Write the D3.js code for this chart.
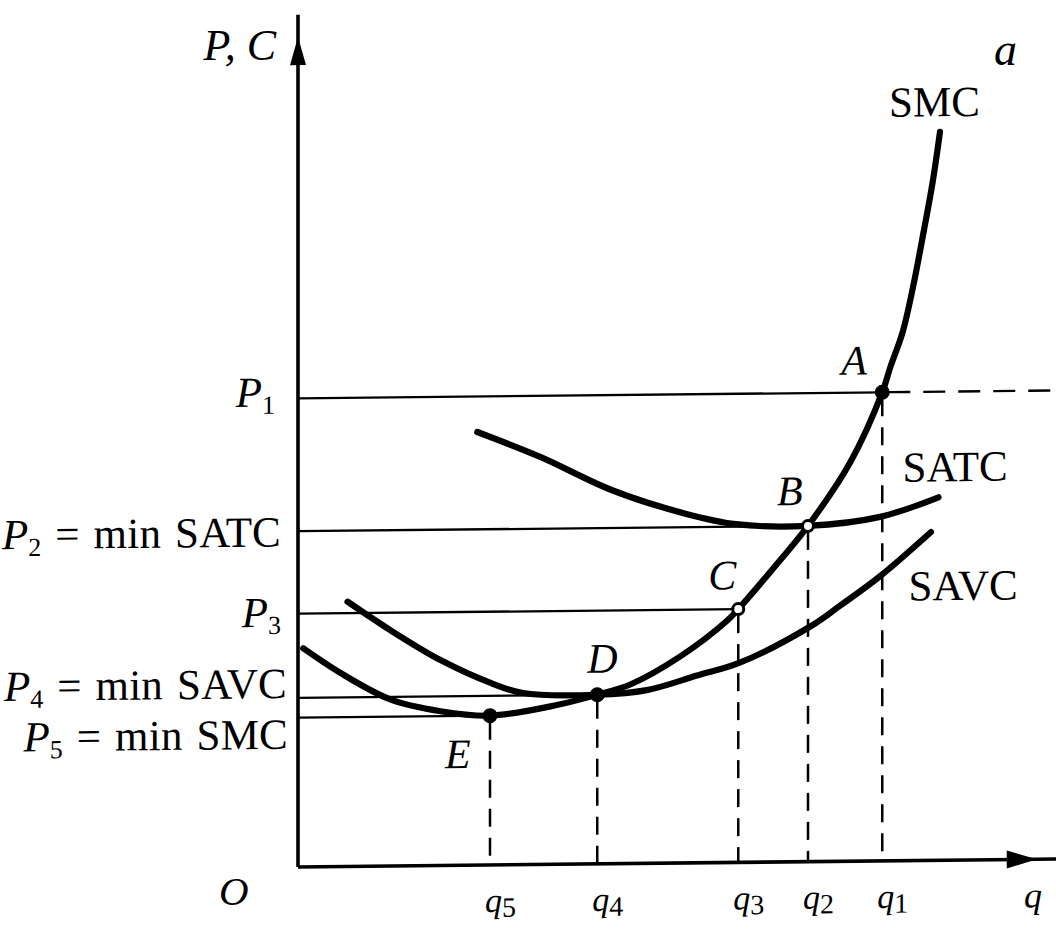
<!DOCTYPE html>
<html><head><meta charset="utf-8">
<script src="https://cdn.jsdelivr.net/npm/d3@7"></script>
<style>
body{margin:0;background:#fff}
svg{display:block}
text{font-family:"Liberation Serif","Times New Roman",serif;fill:#000}
</style>
</head><body>
<svg id="c" width="1056" height="930"></svg>
<script>
// ---- data (q, P) in abstract units ----
const smcCurve = [[0.07,2.65],[0.56,2.35],[1.23,2.02],[1.90,1.87],[2.56,1.81],[3.45,1.93],[3.99,2.05],[4.43,2.17],[5.09,2.50],[5.72,2.93],[5.87,3.07],[6.43,3.66],[6.80,4.07],[7.36,4.83],[7.79,5.68],[7.90,5.99],[8.06,6.40],[8.20,6.95],[8.34,7.61],[8.46,8.21],[8.56,8.83]];
const satcCurve = [[2.39,5.25],[3.23,4.94],[4.18,4.53],[5.14,4.24],[5.84,4.10],[6.80,4.07],[7.76,4.17],[8.54,4.40]];
const savcCurve = [[0.66,3.21],[1.23,2.86],[1.90,2.49],[2.56,2.21],[3.00,2.08],[3.99,2.05],[4.65,2.10],[5.32,2.27],[5.89,2.42],[6.83,2.85],[7.23,3.10],[7.76,3.45],[8.44,3.98]];
const curveNames = ["SMC","SATC","SAVC"];
const pointNames = ["A","B","C","D","E"];
const pointQ = [7.79,6.80,5.87,3.99,2.56];
const pointP = [5.68,4.07,3.07,2.05,1.81];
const pointFilled = [true,false,false,true,true];
const qSubs = ["1","2","3","4","5"];
const pSubs = ["1","2","3","4","5"];
const pSuffix = [""," = min SATC",""," = min SAVC"," = min SMC"];
const axisLabelY = "P, C";
const axisLabelX = "q";
const originLabel = "O";
const panelLabel = "a";

// ---- scales ----
const x = d3.scaleLinear().domain([0,10]).range([298,1048]);
const y = d3.scaleLinear().domain([0,10]).range([867,42]);

const svg = d3.select("#c");
const g = svg.append("g")
  .attr("transform", `translate(${x(0)},${y(0)}) skewY(-0.6) translate(${-x(0)},${-y(0)})`);

const line = d3.line().x(d=>x(d[0])).y(d=>y(d[1])).curve(d3.curveCatmullRom.alpha(0.5));

// horizontal guide lines
pointP.forEach((p,i)=>{
  g.append("line").attr("x1",x(0)).attr("x2",x(pointQ[i])).attr("y1",y(p)).attr("y2",y(p))
   .attr("stroke","#000").attr("stroke-width",2.3);
});
// P1 dashed extension
g.append("line").attr("x1",x(pointQ[0])+6).attr("x2",x(10.2)).attr("y1",y(pointP[0])).attr("y2",y(pointP[0]))
 .attr("stroke","#000").attr("stroke-width",2.3).attr("stroke-dasharray","22,13");
// vertical dashed lines
pointQ.forEach((q,i)=>{
  g.append("line").attr("x1",x(q)).attr("x2",x(q)).attr("y1",y(pointP[i])+6).attr("y2",y(0))
   .attr("stroke","#000").attr("stroke-width",2.5).attr("stroke-dasharray","18,11");
});

// axes
g.append("line").attr("x1",x(0)).attr("x2",x(0)).attr("y1",y(0)).attr("y2",y(10.33))
 .attr("stroke","#000").attr("stroke-width",3.6);
g.append("line").attr("x1",x(0)).attr("x2",x(10.15)).attr("y1",y(0)).attr("y2",y(0))
 .attr("stroke","#000").attr("stroke-width",3.6);
// arrowheads
const yTip = y(10.06), xTip = x(9.85);
g.append("path").attr("d",`M${x(0)},${yTip} L${x(0)-8},${yTip+28} L${x(0)+8},${yTip+28} Z`).attr("fill","#000");
g.append("path").attr("d",`M${xTip},${y(0)} L${xTip-30},${y(0)-9} L${xTip-30},${y(0)+9} Z`).attr("fill","#000");

// curves
[smcCurve,satcCurve,savcCurve].forEach(c=>{
  g.append("path").attr("d",line(c)).attr("fill","none").attr("stroke","#000")
   .attr("stroke-width",6.2).attr("stroke-linecap","round").attr("stroke-linejoin","round");
});

// points
pointQ.forEach((q,i)=>{
  g.append("circle").attr("cx",x(q)).attr("cy",y(pointP[i])).attr("r",pointFilled[i]?7:5.5)
   .attr("fill",pointFilled[i]?"#000":"#fff").attr("stroke","#000").attr("stroke-width",pointFilled[i]?1:3);
});

// point labels
const ptOff = [[-41,-18],[-31,-21],[-30,-20],[-10,-22],[-45,52]];
pointNames.forEach((n,i)=>{
  g.append("text").attr("x",x(pointQ[i])+ptOff[i][0]).attr("y",y(pointP[i])+ptOff[i][1])
   .attr("font-size",42).attr("font-style","italic").text(n);
});

// curve labels
const curveLabelPos = [[7.88,123],[8.06,488],[8.14,607]];
curveNames.forEach((n,i)=>{
  g.append("text").attr("x",x(curveLabelPos[i][0])).attr("y",curveLabelPos[i][1])
   .attr("font-size",43).text(n);
});

// q tick labels
pointQ.forEach((q,i)=>{
  const t = g.append("text").attr("x",x(q)-5).attr("y",914).attr("font-size",34);
  t.append("tspan").attr("font-style","italic").text("q");
  t.append("tspan").attr("font-size",28).attr("dy",5).text(qSubs[i]);
});
g.append("text").attr("x",x(9.68)).attr("y",915).attr("font-size",36).attr("font-style","italic").text(axisLabelX);

// left P labels
const pLabelRight = [275,281,281,287,288];
const pLabelDy = [8,15,13,0,31];
pointP.forEach((p,i)=>{
  const t = g.append("text").attr("x",pLabelRight[i]).attr("y",y(p)+pLabelDy[i])
    .attr("font-size",43).attr("text-anchor","end");
  t.append("tspan").attr("font-style","italic").text("P");
  t.append("tspan").attr("font-size",26).attr("dy",7).text(pSubs[i]);
  if(pSuffix[i]) t.append("tspan").attr("dy",-7).attr("word-spacing",3).attr("letter-spacing",0.2).text(pSuffix[i]);
});

// axis labels
svg.append("text").attr("x",276).attr("y",60).attr("font-size",44).attr("font-style","italic")
  .attr("text-anchor","end").text(axisLabelY);
svg.append("text").attr("x",219).attr("y",905).attr("font-size",41).attr("font-style","italic").text(originLabel);
svg.append("text").attr("x",994).attr("y",65).attr("font-size",46).attr("font-style","italic").text(panelLabel);
</script>
</body></html>
